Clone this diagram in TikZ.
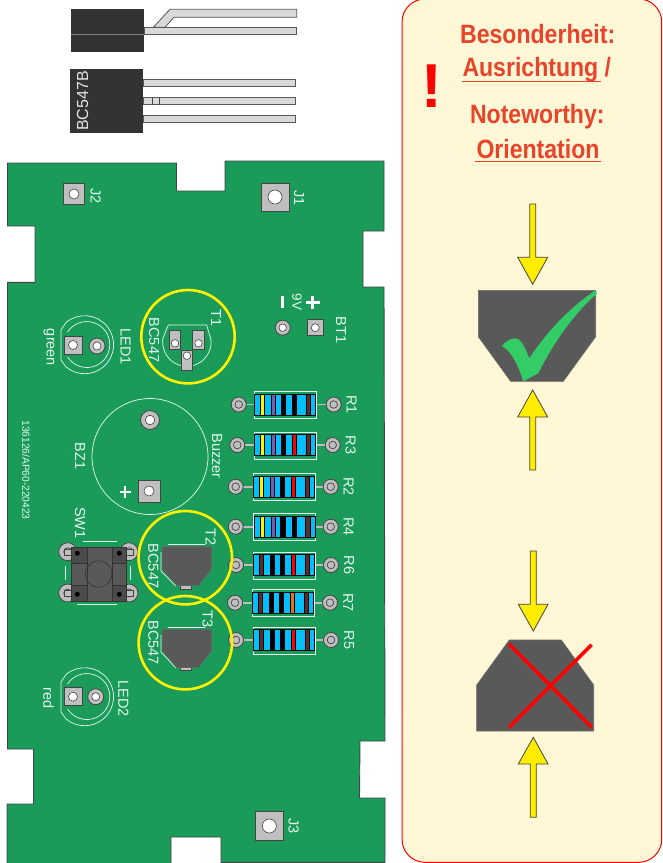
\documentclass[tikz,border=0pt]{standalone}
\usepackage{fontspec}
\setmainfont{Liberation Sans}
\definecolor{board}{HTML}{1A9B5A}
\definecolor{edge}{HTML}{444444}
\definecolor{silk}{HTML}{E6F7EE}
\definecolor{padgray}{HTML}{BFBFBF}
\definecolor{body}{HTML}{595959}
\definecolor{dark}{HTML}{333333}
\definecolor{leadc}{HTML}{D9D9D9}
\definecolor{panel}{HTML}{FFF7D6}
\definecolor{headc}{HTML}{E8442A}
\definecolor{arrowc}{HTML}{FFED00}
\definecolor{checkc}{HTML}{33CC66}
\definecolor{resblue}{HTML}{00BFFF}
\definecolor{brownc}{HTML}{5A2D2D}
\definecolor{purplec}{HTML}{7060B0}
\definecolor{orangec}{HTML}{F07010}
\tikzset{
  x=1pt,y=-1pt,
  lbl/.style={text=silk,inner sep=0pt,font=\fontsize{14.5}{14.5}\selectfont,rotate=-90},
  smalllbl/.style={lbl,font=\fontsize{10.2}{11}\selectfont},
  padbox/.style={draw=edge,fill=padgray,line width=.9pt},
  hole/.style={draw=edge,fill=white,line width=.6pt},
  silkline/.style={draw=silk,line width=.7pt},
  ring/.style={draw=yellow,line width=2.6pt},
  leadstyle/.style={draw=edge!90,fill=leadc,line width=.8pt},
  arrowstyle/.style={draw=edge,fill=arrowc,line width=.8pt},
  headtext/.style={text=headc,inner sep=0pt,anchor=base,font=\fontsize{26.5}{27}\bfseries\selectfont,xscale=.87},
  heading rule/.style={draw=headc,line width=1.5pt},
}
\newcommand{\sqpad}[5]{% name x y half holeradius
  \filldraw[padbox] (#2-#4,#3-#4) rectangle (#2+#4,#3+#4);
  \node[circle,hole,minimum size=2*#5 pt,inner sep=0pt] (#1) at (#2,#3) {};}
\newcommand{\rdpad}[4]{% name x y r
  \filldraw[draw=edge,fill=padgray,line width=.8pt] (#2,#3) circle[radius=#4];
  \node[circle,hole,minimum size=#4 pt,inner sep=0pt] (#1) at (#2,#3) {};}
\newcommand{\resband}[3]{\fill[#3,draw=black,line width=.3pt] (\resx+#1,\resy-10.5) rectangle (\resx+#2,\resy+10.5);}
\newcommand{\resistor}[9]{% name x y padL padR c1 c2 c3 c4 ; c5 follows
  \def\resx{#2}\def\resy{#3}%
  \def\resL{#4}\def\resR{#5}\def\cA{#6}\def\cB{#7}\def\cC{#8}\def\cD{#9}%
  \resistorb{#1}}
\newcommand{\resistorb}[3]{% name color5 label
  \draw[padgray,line width=1.6pt] (\resL,\resy) -- (\resR,\resy);
  \filldraw[draw=edge,fill=padgray,line width=.8pt] (\resL,\resy) circle[radius=7.5];
  \draw[edge,line width=.7pt] (\resL,\resy) circle[radius=3.8];
  \filldraw[draw=edge,fill=padgray,line width=.8pt] (\resR,\resy) circle[radius=7.5];
  \draw[edge,line width=.7pt] (\resR,\resy) circle[radius=3.8];
  \draw[silkline] (\resx,\resy-13) rectangle (\resx+62,\resy+14);
  \filldraw[draw=black,fill=resblue,line width=.8pt] (\resx+.5,\resy-10.5) rectangle (\resx+61.5,\resy+10.5);
  \resband{6.3}{10.3}{\cA}\resband{17.3}{21.3}{\cB}\resband{26.7}{31.3}{\cC}\resband{38}{42.3}{\cD}\resband{51.7}{56}{#2}
  \node[lbl] (#1) at (\resR+18,\resy) {#3};}
\begin{document}
\begin{tikzpicture}
\useasboundingbox (0,0) rectangle (662,863);
\clip (0,0) rectangle (662,863);
% top transistors
\filldraw[leadstyle] (153.3,27.3) -- (170,9.3) -- (296.7,9.3) -- (296.7,17.3) -- (174,17.3) -- (165,27.3) -- cycle;
\filldraw[leadstyle] (144.3,27.3) rectangle (296.7,34.7);
\fill[dark] (71,9.3) rectangle (144.3,52.3);
\draw[gray,line width=.7pt] (71,34.3) -- (144.3,34.3);
\filldraw[leadstyle] (143.3,79.3) rectangle (295.3,86.7);
\filldraw[leadstyle] (143.3,97.7) rectangle (295.3,104.7);
\filldraw[leadstyle] (143.3,115.7) rectangle (295.3,122.7);
\draw[edge,line width=.9pt] (152.3,97.7) -- (152.3,104.7) (159.7,97.7) -- (159.7,104.7);
\fill[dark] (70,69.3) rectangle (143.3,132.7);
\node[inner sep=0pt,text=white!90!black,rotate=90,font=\fontsize{16}{16}\selectfont] (typeb) at (82.5,101) {BC547B};
% board
\filldraw[draw=edge,fill=board,line width=.9pt]
  (7.5,163) -- (176.5,163) -- (176.5,191) -- (225,191) -- (225,161) -- (384,161) -- (384,231) -- (363,231) -- (363,287) -- (384,287)
  -- (385,741) -- (360,741) -- (359.5,798) -- (385,798) -- (385,862.3) -- (221,862.3) -- (221,837) -- (171,837) -- (171,870) -- (7,870)
  -- (7,804) -- (33.5,804) -- (33.5,749) -- (7.5,749) -- (7.5,282.3) -- (35,282.3) -- (35,226) -- (7.5,226) -- cycle;
% jumpers
\sqpad{jtwo}{74}{194}{10.5}{5}
\node[lbl] (ltwo) at (95.5,196) {J2};
\sqpad{jone}{275}{197}{14}{7}
\node[lbl] (lone) at (299,198) {J1};
\sqpad{jthree}{269.3}{826}{14.3}{7}
\node[lbl] (lthree) at (293.5,826) {J3};
% LED1
\draw[silkline] (61,330) -- (66,322.5) arc[start angle=-130,end angle=130,radius=29] -- (61,360) -- cycle;
\draw[silkline] (67.5,332) arc[start angle=-147,end angle=147,radius=23];
\sqpad{ledoneA}{73}{345}{9}{4.5}
\rdpad{ledoneB}{97}{346}{8}
\node[lbl] at (125.7,346.5) {LED1};
\node[lbl] at (49,347.5) {green};
% LED2
\draw[silkline] (61,682) -- (66,674.5) arc[start angle=-130,end angle=130,radius=29] -- (61,712) -- cycle;
\draw[silkline] (67.5,684) arc[start angle=-147,end angle=147,radius=23];
\sqpad{ledtwoA}{73}{696.7}{9}{4.5}
\rdpad{ledtwoB}{95.7}{696.7}{8}
\node[lbl] at (123.5,698.5) {LED2};
\node[lbl] at (48.5,698) {red};
% BT1
\sqpad{btA}{315.3}{327.7}{8}{4}
\rdpad{btB}{282.7}{327.7}{7.5}
\node[lbl] at (341,330) {BT1};
\node[lbl,font=\fontsize{13.5}{13.5}\selectfont] at (297,302) {9V};
\draw[white,line width=2.6pt] (306,302.3) -- (319.5,302.3) (312.7,296) -- (312.7,309);
\draw[white,line width=3pt] (282,295.5) -- (282,308);
% T1
\draw[silkline] (162.3,340) -- (168.3,325) -- (206.7,325) -- (211,340) arc[start angle=-5,end angle=185,radius=24.2];
\filldraw[padbox,line width=.7pt] (169.3,330) rectangle (180.7,349.3);
\filldraw[padbox,line width=.7pt] (192.7,330) rectangle (204,349.3);
\filldraw[padbox,line width=.7pt] (181.3,350) rectangle (192.7,370);
\node[circle,hole,minimum size=7.5pt,inner sep=0pt] at (175,343.3) {};
\node[circle,hole,minimum size=7.5pt,inner sep=0pt] at (198.5,343.3) {};
\node[circle,hole,minimum size=7.5pt,inner sep=0pt] at (187,355.7) {};
\node[lbl] at (154,340) {BC547};
\node[lbl] at (216,318) {T1};
\draw[ring] (188,336.7) circle[radius=46.7];
% buzzer
\draw[silkline] (150,456.5) circle[radius=58];
\rdpad{bzA}{150}{420}{9.5}
\sqpad{bzB}{149}{491}{11}{5}
\draw[white,line width=1.8pt] (119.5,492) -- (131,492) (125.2,486.2) -- (125.2,497.8);
\node[lbl] at (80,456) {BZ1};
\node[lbl] at (217,456) {Buzzer};
\node[smalllbl] at (26,470) {136126/AP60-220423};
% switch
\node[lbl] at (80,523) {SW1};
\foreach \px/\py in {67.7/551.7,129/551.7,67.7/593,129/593}{
  \filldraw[draw=edge,fill=padgray,line width=.8pt] (\px,\py) circle[radius=9];
  \draw[edge,line width=.7pt] (\px,\py) circle[radius=4];}
\filldraw[draw=edge,fill=padgray,line width=.5pt] (64,549) rectangle (71,555) (126,549) rectangle (133,555) (64,590) rectangle (71,596) (126,590) rectangle (133,596);
\filldraw[draw=dark,fill=body,line width=.8pt] (71,547.3) rectangle (126,601);
\draw[dark,line width=.5pt,fill=body!85!black] (71,547.3) rectangle (87.7,563);
\draw[dark,line width=.5pt,fill=body!85!black] (112,547.3) rectangle (126,563);
\draw[dark,line width=.5pt,fill=body!85!black] (71,585) rectangle (87.7,601);
\draw[dark,line width=.5pt,fill=body!85!black] (112,585) rectangle (126,601);
\draw[dark,line width=.5pt] (87.7,563) -- (87.7,585) (112,563) -- (112,585);
\draw[dark,line width=.6pt] (98.7,574) circle[radius=13.2];
\fill[black] (77.3,553.3) circle[radius=2.5] (119.3,553.3) circle[radius=2.5] (77.3,594.3) circle[radius=2.5] (119.3,594.3) circle[radius=2.5];
\draw[silkline] (83.3,541.7) -- (117.3,541.7) (77.3,604) -- (117.3,604) (65,566) -- (65,580) (130,566) -- (130,580);
% resistors
\resistor{Rone}{254}{404.5}{238.7}{333.7}{yellow}{purplec}{black}{black}{brownc}{R1}
\resistor{Rthree}{254.3}{445}{237.3}{332.7}{yellow}{purplec}{black}{red}{brownc}{R3}
\resistor{Rtwo}{253.3}{486.7}{235.7}{330.7}{yellow}{purplec}{black}{red}{brownc}{R2}
\resistor{Rfour}{253.7}{526.7}{235.7}{330.7}{yellow}{purplec}{black}{black}{brownc}{R4}
\resistor{Rsix}{253.3}{565}{236}{331}{brownc}{black}{black}{red}{brownc}{R6}
\resistor{Rseven}{252.3}{602.7}{235}{330}{brownc}{black}{black}{orangec}{brownc}{R7}
\resistor{Rfive}{253}{640}{236}{331}{brownc}{black}{black}{red}{brownc}{R5}
% T2
\draw[silk,line width=.7pt] (168,544.5) -- (205,544.5);
\draw[silk,line width=.7pt] (161,552) -- (161,571) -- (176,586);
\filldraw[draw=edge,fill=padgray,line width=.6pt] (180.7,585) rectangle (191.7,589.3);
\filldraw[draw=edge!80,fill=body,line width=.5pt] (162,546.7) -- (211.7,546.7) -- (211.7,569.3) -- (198.3,585.7) -- (176.7,585.7) -- (162,569.3) -- cycle;
\node[lbl] at (153.3,566) {BC547};
\node[lbl] at (210.7,537.3) {T2};
\draw[ring] (185.3,557.7) circle[radius=46.7];
% T3
\draw[silk,line width=.7pt] (168,627) -- (205,627);
\draw[silk,line width=.7pt] (161,635) -- (161,652) -- (176,668);
\filldraw[draw=edge,fill=padgray,line width=.6pt] (180,667) rectangle (191,670.7);
\filldraw[draw=edge!80,fill=body,line width=.5pt] (162,629.3) -- (211.7,629.3) -- (211.7,650.7) -- (198.3,667.7) -- (176.7,667.7) -- (162,650.7) -- cycle;
\node[lbl] at (153.3,642.7) {BC547};
\node[lbl] at (207.7,619.3) {T3};
\draw[ring] (185.3,642.7) circle[radius=46.7];
% right panel
\filldraw[draw=red,fill=panel,line width=1pt,rounded corners=23pt] (402,-1) rectangle (661.7,862.3);
\node[text=red,inner sep=0pt,anchor=base,font=\fontsize{62}{62}\bfseries\selectfont] (bang) at (431.7,107.3) {!};
\node[headtext] (h1) at (537.7,43.3) {Besonderheit:};
\node[headtext] (h2) at (536.8,76) {Ausrichtung /};
\node[headtext] (h3) at (537.3,123.3) {Noteworthy:};
\node[headtext] (h4) at (538,158.3) {Orientation};
\draw[heading rule] (462,81.3) -- (600.7,81.3);
\draw[heading rule] (475,161.7) -- (601,161.7);
% arrows
\filldraw[arrowstyle] (529.7,204) -- (535.7,204) -- (535.7,257.3) -- (547.7,257.3) -- (532.7,284.3) -- (517.7,257.3) -- (529.7,257.3) -- cycle;
\filldraw[arrowstyle] (529.7,470) -- (535.7,470) -- (535.7,417) -- (547.7,417) -- (532.7,390) -- (517.7,417) -- (529.7,417) -- cycle;
\filldraw[arrowstyle] (530.3,551) -- (536.3,551) -- (536.3,604.3) -- (548,604.3) -- (533.3,631) -- (518.3,604.3) -- (530.3,604.3) -- cycle;
\filldraw[arrowstyle] (530.3,817.3) -- (536.3,817.3) -- (536.3,764) -- (548,764) -- (533.3,737.3) -- (518.3,764) -- (530.3,764) -- cycle;
% good shape
\filldraw[draw=edge!80,fill=body,line width=.6pt] (478.3,290.3) -- (595.7,290.3) -- (595.7,336.7) -- (563.3,381.3) -- (510.7,381.3) -- (478.3,336.7) -- cycle;
\fill[checkc] (502,346) .. controls (507,340) and (513,337) .. (518,339) .. controls (522,341) and (526,350) .. (529.3,358.3)
  .. controls (548,330) and (572,306) .. (595,290.7) -- (597.3,293.3) .. controls (575,312) and (552,345) .. (538.3,373.3)
  -- (523.3,381.3) .. controls (518,365) and (512,352) .. (502,346) -- cycle;
% bad shape
\filldraw[draw=edge!80,fill=body,line width=.6pt] (509.3,640) -- (561.3,640) -- (593.7,685) -- (593.7,731) -- (476.7,731) -- (476.7,685) -- cycle;
\draw[red,line width=3.6pt] (509,644) -- (591.7,727.3) (509,727.3) -- (591.7,644.7);
\end{tikzpicture}
\end{document}
